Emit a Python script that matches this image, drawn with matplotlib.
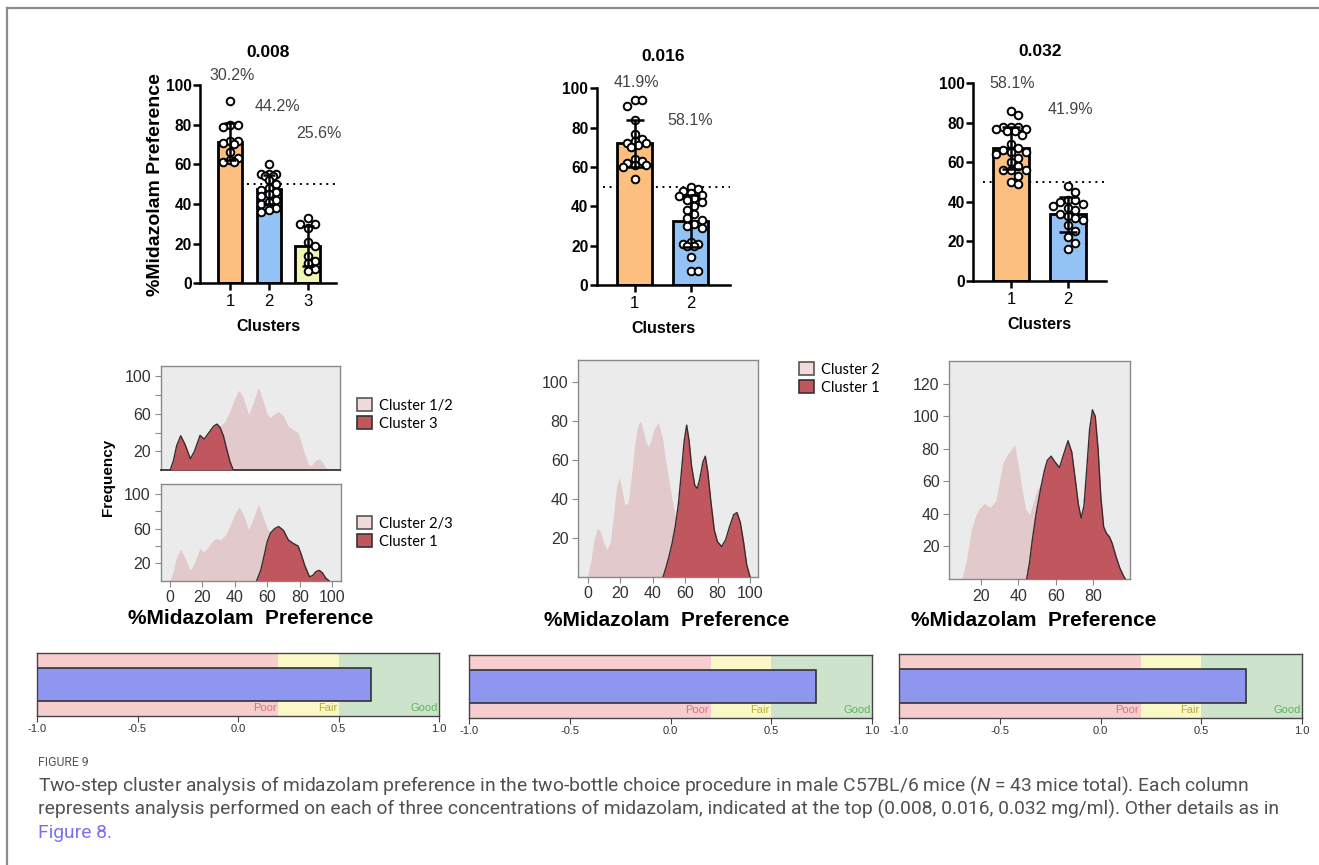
import matplotlib
matplotlib.use('Agg')
import matplotlib.pyplot as plt
import numpy as np
from matplotlib.patches import Patch
from matplotlib.lines import Line2D

plt.rcParams['font.family'] = ['Liberation Sans', 'DejaVu Sans']
plt.rcParams['mathtext.fontset'] = 'custom'
plt.rcParams['mathtext.it'] = 'Roboto:italic'

W, H = 1319, 865

# ---- data -------------------------------------------------------------
conc = ['0.008', '0.016', '0.032']

# cluster sizes, % of the 43 mice
pct_008 = ['30.2%', '44.2%', '25.6%']
pct_016 = ['41.9%', '58.1%']
pct_032 = ['58.1%', '41.9%']

# %midazolam preference of each mouse, by cluster
pref_008_c1 = [92, 80, 79, 80, 72, 71, 72, 70, 66, 63, 61, 62, 61]
pref_008_c2 = [60, 55, 55, 54, 55, 54, 52, 50, 48, 47, 46, 45, 44, 42, 41, 40, 38, 37, 36]
pref_008_c3 = [33, 30, 30, 28, 21, 19, 14, 11, 10, 7, 6]
pref_016_c1 = [94, 94, 91, 84, 77, 74, 73, 72, 72, 71, 70, 64, 63, 62, 61, 61, 60, 54]
pref_016_c2 = [50, 49, 48, 47, 46, 45, 44, 43, 42, 40, 38, 36, 34, 33, 31, 30, 29,
               22, 21, 21, 20, 20, 14, 7, 7]
pref_032_c1 = [86, 84, 78, 78, 78, 77, 77, 76, 76, 74, 69, 67, 66, 65, 65, 64, 62,
               60, 58, 56, 56, 56, 53, 50, 49]
pref_032_c2 = [48, 45, 41, 41, 40, 39, 38, 37, 36, 34, 33, 32, 31, 28, 25, 22, 19, 16]

# frequency curves (x = %midazolam preference)
f008_all_x = [0, 2, 4, 6.5, 9, 12.5, 15, 18.5, 21, 24, 27, 29, 31, 34, 37, 40, 42.5, 45,
              48.5, 51, 54.5, 57, 60, 62, 64.5, 67, 70, 73, 76, 79, 81, 83, 86, 88, 90,
              92, 94, 96, 98]
f008_all_y = [0, 10, 26, 36.5, 28, 12, 20, 37, 33, 40, 47, 49, 47, 52, 63, 77, 85, 78,
              59, 70, 88, 76, 60, 56, 60, 62.5, 58, 47, 43, 40, 30, 18, 4.5, 6, 10.5,
              12, 9, 3, 0]
f008_c3_x = [0, 2, 4, 6.5, 9, 12.5, 15, 18.5, 21, 24, 27, 29, 31, 33, 35, 37, 39]
f008_c3_y = [0, 10, 26, 36.5, 28, 12, 20, 37, 33, 40, 47, 49, 45, 36, 22, 9, 0]
f008_c1_x = [53.5, 56, 58, 60, 62, 64.5, 67, 70, 73, 76, 79, 81, 83, 86, 88, 90, 92,
             94, 96, 98]
f008_c1_y = [0, 12, 28, 45, 55, 60, 62.5, 58, 47, 43, 40, 30, 18, 4.5, 6, 10.5, 12,
             9, 3, 0]

f016_c2_x = [0, 2, 4, 6, 8, 10, 12, 14, 16, 18, 19.5, 21, 23, 25, 27, 29, 31, 32.5,
             34, 36, 37.5, 39, 41, 43.5, 46, 48, 50, 52, 54.5, 57, 60, 62]
f016_c2_y = [0, 8, 19, 25, 23, 17, 14, 18, 32, 47, 51, 45, 37, 38, 52, 68, 78, 80,
             76, 69, 67, 70, 76, 79.5, 72, 60, 50, 40, 29, 18, 6, 0]
f016_c1_x = [46.5, 48, 50, 52, 54, 56, 58, 59.5, 61, 62.5, 64, 66, 67.5, 69, 71, 72.5,
             74, 76, 78, 80, 82.5, 85, 87.5, 90, 92, 94, 96, 98, 100]
f016_c1_y = [0, 4, 10, 17, 26, 38, 56, 70, 78, 70, 57, 47, 45.5, 50, 59, 62,
             54, 38, 24, 18, 15.5, 19, 26, 32, 33, 28, 18, 6, 0]

f032_c2_x = [10, 12.5, 15, 17, 19, 22, 25, 28, 30, 32, 34.5, 36, 38, 40, 42, 44, 46,
             48, 50, 52.5, 55, 58, 61]
f032_c2_y = [0, 12, 30, 38, 43, 46.5, 44, 48, 60, 72, 77, 79, 82.5, 70, 55, 43, 39.5,
             47, 55, 59, 45, 20, 0]
f032_c1_x = [44.5, 46, 47.5, 49.5, 52, 54, 55.5, 57.5, 59.5, 62, 64, 66.5, 68.5, 70.5,
             72, 73.5, 75, 76.5, 78, 79.5, 81, 82.5, 84, 85.5, 87, 88.5, 90, 92, 94,
             96, 97]
f032_c1_y = [0, 10, 24, 40, 56, 67, 73, 75.5, 72, 68.5, 76, 85, 78, 60, 46, 37.5, 45,
             68, 92, 104, 100, 80, 50, 32, 28, 26, 22, 14, 7, 2, 0]

# silhouette measure of cohesion and separation
silhouette = [0.66, 0.72, 0.72]

# ---- helpers ----------------------------------------------------------
ORANGE, BLUE, YELLOW = '#fdbf80', '#93c2f5', '#f0f6b4'
LIGHT, DARK = '#e2c9cb', '#c0565e'
BAR_W = 0.64


def box(l, t, r, b):
    return [l / W, 1 - b / H, (r - l) / W, (b - t) / H]


def swarm(ax, xc, vals, d=7.5):
    # spread points sideways (in pixels) so they don't sit on top of each other
    tr = ax.transData.transform
    sx = tr((1, 0))[0] - tr((0, 0))[0]
    sy = tr((0, 1))[1] - tr((0, 0))[1]
    half = BAR_W * sx / 2 - 3
    cands = [0.0]
    i = 1
    while i * d * 0.5 <= half:
        cands += [i * d * 0.5, -i * d * 0.5]
        i += 1
    placed, xs = [], []
    for v in vals:
        y = v * sy
        best, best_gap = 0.0, -1
        for off in cands:
            gap = min([np.hypot(off - px, y - py) for px, py in placed] or [99])
            if gap >= d:
                best = off
                break
            if gap > best_gap:
                best, best_gap = off, gap
        placed.append((best, y))
        xs.append(xc + best / sx)
    return xs


def bar_panel(rect, xlim, groups, colors, pcts, pct_pos, dot_x0, cap, title, ylabel=False):
    ax = fig.add_axes(rect)
    ax.set_xlim(*xlim)
    ax.set_ylim(0, 100)
    xs = np.arange(1, len(groups) + 1)
    means = [np.mean(g) for g in groups]
    sds = [np.std(g, ddof=1) for g in groups]
    ax.plot([dot_x0, xlim[1]], [50, 50], ls=(0, (1, 2.4)), color='black', lw=1.4, zorder=1)
    ax.bar(xs, means, width=BAR_W, color=colors, edgecolor='black', linewidth=2, zorder=2)
    for x, g in zip(xs, groups):
        order = sorted(g, reverse=True)
        ax.scatter(swarm(ax, x, order), order, s=30, facecolor='white',
                   edgecolor='black', linewidth=1.4, zorder=3, clip_on=False)
    ax.errorbar(xs, means, yerr=sds, fmt='none', ecolor='black', elinewidth=1.8,
                capsize=cap, capthick=1.8, zorder=4)
    for t, (px, py) in zip(pcts, pct_pos):
        ax.text(px, py, t, ha='center', va='center', fontsize=11.5, color='#444444')
    for s in ['top', 'right']:
        ax.spines[s].set_visible(False)
    for s in ['left', 'bottom']:
        ax.spines[s].set_linewidth(1.8)
    ax.set_yticks(range(0, 101, 20))
    ax.set_xticks(xs)
    ax.tick_params(width=1.8, length=5)
    ax.tick_params(axis='x', labelsize=12, pad=3)
    ax.tick_params(axis='y', labelsize=11.2, pad=1)
    for lb in ax.get_yticklabels():
        lb.set_fontweight('bold')
    ax.set_xlabel('Clusters', fontsize=11.5, fontweight='bold', labelpad=7)
    ax.set_title(title, fontsize=12.5, fontweight='bold', pad=20)
    if ylabel:
        ax.set_ylabel('%Midazolam Preference', fontsize=14, fontweight='bold', labelpad=1)
    return ax


def dens_panel(rect, xlim, ylim, yticks, ylabels, xticks, light, dark, dark_bottom=False):
    ax = fig.add_axes(rect)
    ax.set_facecolor('#ebebeb')
    ax.fill_between(light[0], light[1], color=LIGHT, lw=0, zorder=2)
    ax.fill_between(dark[0], dark[1], color=DARK, lw=0, zorder=3)
    ax.plot(dark[0], dark[1], color='#3a2c2c', lw=1, zorder=4)
    ax.set_xlim(*xlim)
    ax.set_ylim(*ylim)
    for s in ax.spines.values():
        s.set_color('#8a8a8a')
        s.set_linewidth(1)
    if dark_bottom:
        ax.spines['bottom'].set_color('#333333')
        ax.spines['bottom'].set_linewidth(1.3)
    ax.set_yticks(yticks)
    ax.set_yticklabels(ylabels)
    ax.set_xticks(xticks)
    ax.tick_params(length=4, color='#8a8a8a', labelsize=11.5, labelcolor='#333333', pad=3)
    return ax


def sil_panel(rect, value):
    ax = fig.add_axes(rect)
    ax.set_xlim(-1, 1)
    ax.set_ylim(0, 1)
    ax.axvspan(-1, 0.2, color='#f8cdcd', lw=0)
    ax.axvspan(0.2, 0.5, color='#fbf8c8', lw=0)
    ax.axvspan(0.5, 1, color='#cde3cb', lw=0)
    ax.barh(0.5, value + 1, left=-1, height=0.52, color='#8f96f0',
            edgecolor='#333333', linewidth=1.2)
    for x, t, c in [(0.2, 'Poor', '#d8747e'), (0.5, 'Fair', '#b5b03a'), (1.0, 'Good', '#5ab75c')]:
        ax.text(x - 0.008, 0.12, t, ha='right', va='center', fontsize=8, color=c)
    for s in ax.spines.values():
        s.set_color('#444444')
        s.set_linewidth(1)
    ax.set_yticks([])
    ax.set_xticks([-1, -0.5, 0, 0.5, 1])
    ax.set_xticklabels(['-1.0', '-0.5', '0.0', '0.5', '1.0'])
    ax.tick_params(axis='x', length=4, color='#444444', labelsize=8,
                   labelcolor='#333333', pad=2)
    return ax


fig = plt.figure(figsize=(W / 100, H / 100), dpi=100)

# ---- top row: cluster means ----------------------------------------
bar_panel(box(200, 85, 336, 283.3), (0.23, 3.72),
          [pref_008_c1, pref_008_c2, pref_008_c3], [ORANGE, BLUE, YELLOW],
          pct_008, [(1.05, 104.7), (2.23, 89), (3.28, 75.4)], 1.44, 4.5, conc[0],
          ylabel=True)
bar_panel(box(596.7, 88.3, 730, 285), (0.325, 2.705),
          [pref_016_c1, pref_016_c2], [ORANGE, BLUE],
          pct_016, [(1.03, 103), (2.0, 83.8)], 0.44, 6.5, conc[1])
bar_panel(box(973.3, 83.3, 1106, 280.7), (0.34, 2.67),
          [pref_032_c1, pref_032_c2], [ORANGE, BLUE],
          pct_032, [(1.03, 99.8), (2.05, 86.6)], 0.51, 6.5, conc[2])

# ---- middle row: frequency of preference by cluster -----------------
xl = (-5.7, 105.1)
axA = dens_panel(box(161, 366, 340, 470), xl, (0, 111), [20, 40, 60, 80, 100],
                 ['20', '', '60', '', '100'], [], (f008_all_x, f008_all_y),
                 (f008_c3_x, f008_c3_y), dark_bottom=True)
axB = dens_panel(box(160.5, 484, 340.5, 580.7), xl, (0, 111.5), [20, 40, 60, 80, 100],
                 ['20', '', '60', '', '100'], range(0, 101, 20), (f008_all_x, f008_all_y),
                 (f008_c1_x, f008_c1_y))
axC = dens_panel(box(578.3, 360, 758.3, 576.7), xl, (0, 111.5), range(20, 101, 20),
                 [str(v) for v in range(20, 101, 20)], range(0, 101, 20),
                 (f016_c2_x, f016_c2_y), (f016_c1_x, f016_c1_y))
axD = dens_panel(box(949.3, 361, 1130, 579), (3.3, 99.5), (0, 134), range(20, 121, 20),
                 [str(v) for v in range(20, 121, 20)], range(20, 81, 20),
                 (f032_c2_x, f032_c2_y), (f032_c1_x, f032_c1_y))


def legend_at(ax, x, y, labels):
    handles = [Patch(facecolor='#f2dadb', edgecolor='#555555', linewidth=1.2),
               Patch(facecolor=DARK, edgecolor='#333333', linewidth=1.2)]
    ax.legend(handles, labels, loc='upper left', bbox_to_anchor=(x / W, 1 - y / H),
              bbox_transform=fig.transFigure, frameon=False, handlelength=1.0,
              handleheight=1.0, handletextpad=0.5, labelspacing=0.25, borderpad=0,
              borderaxespad=0, prop={'family': 'Lato', 'size': 10.5})


legend_at(axA, 357, 398, ['Cluster 1/2', 'Cluster 3'])
legend_at(axB, 357, 516, ['Cluster 2/3', 'Cluster 1'])
legend_at(axC, 799, 362, ['Cluster 2', 'Cluster 1'])

fig.text(108 / W, 1 - 477 / H, 'Frequency', rotation=90, ha='center', va='center',
         fontsize=11, fontweight='bold')
for cx, cy in [(251, 619), (667, 621), (1034, 621)]:
    fig.text(cx / W, 1 - cy / H, '%Midazolam  Preference', ha='center', va='center',
             fontsize=15, fontweight='bold')

# ---- bottom row: silhouette ----------------------------------------
sil_panel(box(37, 653, 439, 716), silhouette[0])
sil_panel(box(469, 655, 872, 718), silhouette[1])
sil_panel(box(899, 654, 1302, 718), silhouette[2])

# ---- page frame and caption ----------------------------------------
fig.add_artist(Line2D([7 / W, 7 / W], [0, 1 - 7.5 / H], color='#8c8c8c', lw=1.6,
                      transform=fig.transFigure))
fig.add_artist(Line2D([7 / W, 1], [1 - 7.5 / H, 1 - 7.5 / H], color='#8c8c8c', lw=1.6,
                      transform=fig.transFigure))

cap_font = ['Roboto', 'DejaVu Sans']
fig.text(38 / W, 1 - 763 / H, 'FIGURE 9', ha='left', va='center', fontsize=8.8,
         color='#555555', family=cap_font)
cap_lines = [
    'Two-step cluster analysis of midazolam preference in the two-bottle choice procedure '
    'in male C57BL/6 mice ($N$ = 43 mice total). Each column',
    'represents analysis performed on each of three concentrations of midazolam, indicated '
    'at the top (0.008, 0.016, 0.032 mg/ml). Other details as in',
]
for i, line in enumerate(cap_lines):
    fig.text(38 / W, 1 - (786 + 23.5 * i) / H, line, ha='left', va='center', fontsize=13.9,
             color='#505050', family=cap_font)
fig.text(38 / W, 1 - 833 / H, 'Figure 8.', ha='left', va='center', fontsize=13.9,
         color='#7a6ff0', family=cap_font)

fig.savefig('out.png', dpi=100, facecolor='white')
